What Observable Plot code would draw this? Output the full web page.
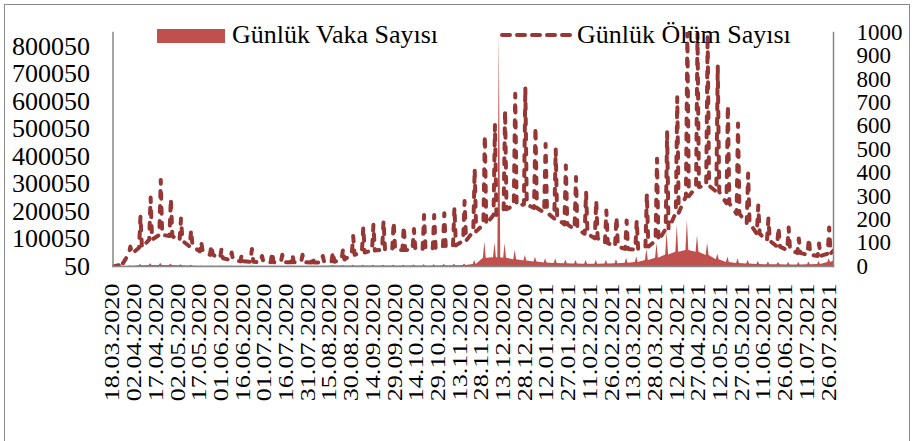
<!DOCTYPE html>
<html><head><meta charset="utf-8">
<script src="https://cdn.jsdelivr.net/npm/d3@7"></script>
<script src="https://cdn.jsdelivr.net/npm/@observablehq/plot@0.6"></script>
<style>
body{margin:0;background:#fff;}
#wrap{position:relative;width:914px;height:441px;overflow:hidden;font-family:"Liberation Serif","Times New Roman",serif;color:#000;}
#border{position:absolute;left:4px;top:4px;width:906px;height:450px;border:1.5px solid #8a8a8a;box-sizing:border-box;pointer-events:none;}
.lg{position:absolute;font-size:26px;line-height:26px;white-space:nowrap;top:22px;}
#chart{position:absolute;left:0;top:0;}
#chart text{font-family:"Liberation Serif","Times New Roman",serif;}
</style>
</head><body>
<div id="wrap">
  <div id="chart"></div>
  <div id="border"></div>
  <div style="position:absolute;left:157px;top:29px;width:68px;height:14px;background:#C0504D"></div>
  <div class="lg" style="left:232px">Günlük Vaka Sayısı</div>
  <svg style="position:absolute;left:498px;top:28px" width="74" height="14"><line x1="4" x2="72" y1="7" y2="7" stroke="#953735" stroke-width="4" stroke-dasharray="8,7" stroke-linecap="round"/></svg>
  <div class="lg" style="left:577px">Günlük Ölüm Sayısı</div>
</div>
<script>
// ---- tick labels ----
const dateLabels = ["18.03.2020","02.04.2020","17.04.2020","02.05.2020","17.05.2020","01.06.2020","16.06.2020","01.07.2020","16.07.2020","31.07.2020","15.08.2020","30.08.2020","14.09.2020","29.09.2020","14.10.2020","29.10.2020","13.11.2020","28.11.2020","13.12.2020","28.12.2020","12.01.2021","27.01.2021","11.02.2021","26.02.2021","13.03.2021","28.03.2021","12.04.2021","27.04.2021","12.05.2021","27.05.2021","11.06.2021","26.06.2021","11.07.2021","26.07.2021"];
const leftTicks = [50,100050,200050,300050,400050,500050,600050,700050,800050];
const rightTicks = [0,100,200,300,400,500,600,700,800,900,1000];

// ---- data: weekly spikes (first spike 23.03.2020, every 7 days) ----
const firstSpike = "2020-03-23";
const deathPeak = [18,85,215,295,370,290,205,155,105,90,75,60,50,75,45,60,50,50,50,42,45,62,75,130,168,178,195,190,172,160,220,220,228,252,280,417,560,605,667,738,766,595,524,500,432,382,318,282,239,211,197,197,311,461,574,723,1000,995,990,859,688,611,397,261,205,167,167,120,120,98,167];
const deathBase = [5,55,80,115,135,130,110,85,65,50,35,28,22,20,18,18,18,18,18,17,18,20,30,50,60,68,72,72,70,72,75,78,82,90,110,150,180,220,245,260,265,250,230,205,180,160,140,120,100,85,75,72,85,110,160,230,300,340,345,320,270,225,185,140,110,85,70,58,50,45,55];
const casePeak = [1500,3000,7000,10000,12000,9000,6000,4500,2200,1800,1500,1600,1700,1500,1300,1400,1300,1500,1400,1600,1700,4000,4000,5000,5000,5000,5000,5000,5000,5500,6000,6500,7000,8000,9000,22000,88600,85000,83000,58000,40000,34000,28000,28000,24000,22000,22000,22000,22000,25000,30000,35000,62000,83000,125000,150000,168000,113000,85000,45000,35000,28000,22000,18000,16000,15000,15000,15000,16000,18000,28000];
const caseBase = [300,1200,2500,3500,4000,3500,2500,1800,1000,900,800,800,900,1000,1000,1000,1100,1200,1200,1300,1400,1500,1600,1700,1700,1700,1700,1700,1800,1900,2000,2200,2500,3000,3500,7000,30000,32000,30000,25000,20000,16000,13000,11000,10000,9000,8000,8000,9000,10000,12000,15000,22000,30000,42000,52000,58000,52000,40000,25000,15000,11000,9000,7000,6000,6000,5500,5500,6000,7500,15000];
// single large reporting spike
const bigSpikeDates = ["2020-12-09","2020-12-10","2020-12-11"];
const bigSpikeCases = [32000,845000,32000];
// first / last day
const edgeDates = ["2020-03-18","2021-07-29"];
const edgeDeaths = [0,68];
const edgeCases = [50,20000];

// ---- build tables ----
const parseISO = d3.utcParse("%Y-%m-%d");
const parseTR = d3.utcParse("%d.%m.%Y");
const s0 = parseISO(firstSpike);
const deathPts = [], casePts = [];
deathPts.push({date: parseISO(edgeDates[0]), v: edgeDeaths[0]});
casePts.push({date: parseISO(edgeDates[0]), v: edgeCases[0]});
deathPeak.forEach((p, k) => {
  const s = d3.utcDay.offset(s0, 7 * k);
  deathPts.push({date: d3.utcDay.offset(s, -1), v: deathBase[k]});
  deathPts.push({date: s, v: p});
  deathPts.push({date: d3.utcDay.offset(s, 1), v: deathBase[k]});
  casePts.push({date: d3.utcDay.offset(s, -1), v: caseBase[k]});
  casePts.push({date: s, v: casePeak[k]});
  casePts.push({date: d3.utcDay.offset(s, 1), v: caseBase[k]});
});
bigSpikeDates.forEach((d, i) => casePts.push({date: parseISO(d), v: bigSpikeCases[i]}));
deathPts.push({date: parseISO(edgeDates[1]), v: edgeDeaths[1]});
casePts.push({date: parseISO(edgeDates[1]), v: edgeCases[1]});
casePts.sort((a, b) => a.date - b.date);

const toLeft = d => 50 + d * 850; // right axis (0..1000) onto left scale (50..850050)
const tickDates = dateLabels.map(parseTR);
const labelOf = new Map(tickDates.map((d, i) => [+d, dateLabels[i]]));
const rightOf = new Map(rightTicks.map(t => [toLeft(t), String(t)]));
const serif = "'Liberation Serif','Times New Roman',serif";

const plot = Plot.plot({
  width: 914, height: 441,
  marginLeft: 112.5, marginRight: 81, marginTop: 32, marginBottom: 175,
  style: {fontFamily: serif, color: "#000", background: "transparent", overflow: "visible"},
  x: {type: "utc", domain: [parseISO(edgeDates[0]), parseISO(edgeDates[1])], axis: null},
  y: {domain: [50, 850050], axis: null},
  marks: [
    Plot.areaY(casePts, {x: "date", y: "v", fill: "#C0504D", clip: true}),
    Plot.lineY(deathPts, {x: "date", y: d => toLeft(d.v), stroke: "#953735", strokeWidth: 4, strokeDasharray: "6,9", strokeLinecap: "round", clip: true}),
    Plot.frame({anchor: "left", stroke: "#878787", strokeWidth: 1.5}),
    Plot.frame({anchor: "right", stroke: "#878787", strokeWidth: 1.5}),
    Plot.frame({anchor: "bottom", stroke: "#878787", strokeWidth: 1.5}),
    Plot.axisY({anchor: "left", ticks: leftTicks, tickFormat: d => String(d), tickSize: 0, tickPadding: 23, fontSize: 26, fontFamily: serif, label: null}),
    Plot.axisY({anchor: "right", ticks: rightTicks.map(toLeft), tickFormat: d => rightOf.get(d), tickSize: 0, tickPadding: 23, fontSize: 23, fontFamily: serif, label: null}),
    Plot.axisX({ticks: tickDates, tickFormat: d => labelOf.get(+d), tickRotate: -90, tickSize: 0, tickPadding: 17, fontSize: 20, fontFamily: serif, label: null})
  ]
});
document.getElementById("chart").appendChild(plot);
plot.querySelectorAll('g[aria-label="x-axis tick label"] text').forEach(t => {
  t.setAttribute("transform", (t.getAttribute("transform") || "") + " scale(1.31,1)");
});
</script>
</body></html>
